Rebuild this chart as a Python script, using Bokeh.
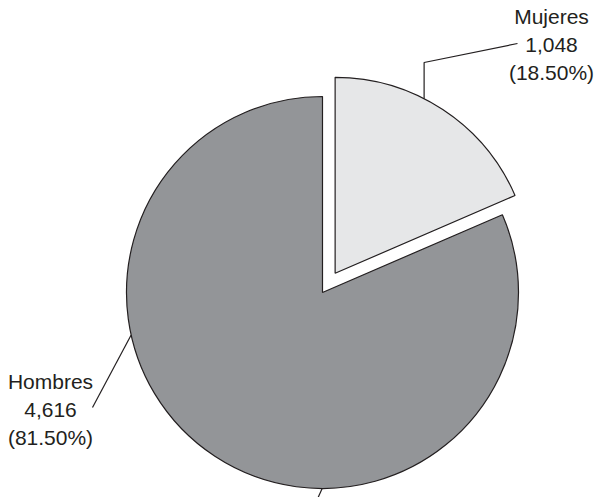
import math
from bokeh.plotting import figure
from bokeh.models import ColumnDataSource, Range1d
from bokeh.core.properties import value
from bokeh.embed import file_html
from bokeh.resources import INLINE

# ---- data ----
categories = ["Mujeres", "Hombres"]
counts = [1048, 4616]
percent_labels = ["18.50%", "81.50%"]
count_labels = ["1,048", "4,616"]

# ---- style ----
colors = ["#e6e7e8", "#939598"]
explode = [23, 0]
radius = 196
W, H = 596, 497
CX, CY = 322, 292  # pie centre in pixels from top-left
label_pos = [(229, 248), (-272, -117)]
leader_start_angle = [63.0, 192.5]
stub_angle = 269.9  # short stray leader at the bottom of the pie

total = sum(counts)
fracs = [c / total for c in counts]

p = figure(width=W, height=H, output_backend="svg", toolbar_location=None,
           x_range=Range1d(-CX, W - CX), y_range=Range1d(CY - H, CY),
           min_border=0)
p.axis.visible = False
p.grid.visible = False
p.outline_line_color = None
p.background_fill_color = "white"

# slices: clockwise from 12 o'clock
start_deg = 90.0
xs, ys, sa, ea, cols = [], [], [], [], []
centers = []
for i, f in enumerate(fracs):
    sweep = 360.0 * f
    end_deg = start_deg - sweep
    mid = math.radians((start_deg + end_deg) / 2)
    cx = explode[i] * math.cos(mid)
    cy = explode[i] * math.sin(mid)
    centers.append((cx, cy))
    xs.append(cx); ys.append(cy)
    sa.append(math.radians(end_deg)); ea.append(math.radians(start_deg))
    cols.append(colors[i])
    start_deg = end_deg

src = ColumnDataSource(dict(x=xs, y=ys, start=sa, end=ea, color=cols))
p.wedge(x="x", y="y", radius=radius, start_angle="start", end_angle="end",
        direction="anticlock", fill_color="color", line_color="#231f20",
        line_width=1.2, source=src)

# leader lines
cx, cy = centers[0]
a = math.radians(leader_start_angle[0])
sx, sy = cx + radius * math.cos(a), cy + radius * math.sin(a)
lx, ly = label_pos[0]
p.line([sx, sx, lx - 34], [sy, ly - 18, ly + 1], line_color="#231f20", line_width=1.2)
cx, cy = centers[1]
a = math.radians(leader_start_angle[1])
sx, sy = cx + radius * math.cos(a), cy + radius * math.sin(a)
lx, ly = label_pos[1]
p.line([sx, lx + 42], [sy, ly + 2], line_color="#231f20", line_width=1.2)
# bottom stub
a = math.radians(stub_angle)
sx, sy = cx + radius * math.cos(a), cy + radius * math.sin(a)
p.line([sx, sx - 4.5], [sy, sy - 10], line_color="#231f20", line_width=1.2)

# labels
texts = [f"{categories[i]}\n{count_labels[i]}\n({percent_labels[i]})" for i in range(2)]
lsrc = ColumnDataSource(dict(x=[lp[0] for lp in label_pos], y=[lp[1] for lp in label_pos], text=texts))
p.text(x="x", y="y", text="text", source=lsrc, text_align="center", text_baseline="middle",
       text_font=value("Liberation Sans"), text_font_size="21px", text_color="#231f20",
       text_line_height=1.2)

open("out.html", "w").write(file_html(p, INLINE))
